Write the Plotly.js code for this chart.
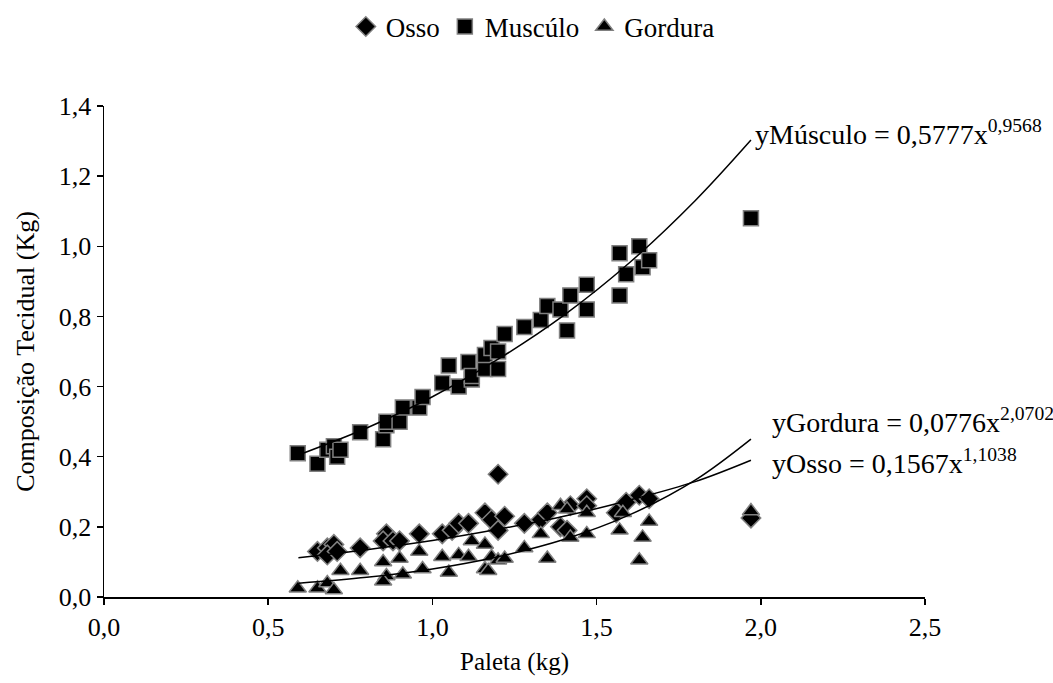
<!DOCTYPE html>
<html>
<head>
<meta charset="utf-8">
<script src="https://cdn.plot.ly/plotly-3.0.1.min.js"></script>
<style>html,body{margin:0;padding:0;background:#fff;}#chart{width:1053px;height:683px;}</style>
</head>
<body>
<div id="chart"></div>
<script>
// Músculo (squares)
const musculoX = [0.59,0.65,0.68,0.70,0.71,0.72,0.78,0.85,0.86,0.86,0.90,0.91,0.96,0.97,1.03,1.05,1.08,1.11,1.12,1.12,1.16,1.16,1.18,1.20,1.20,1.22,1.28,1.33,1.35,1.39,1.41,1.42,1.47,1.47,1.57,1.57,1.59,1.63,1.64,1.66,1.97];
const musculoY = [0.41,0.38,0.42,0.43,0.40,0.42,0.47,0.45,0.49,0.50,0.50,0.54,0.54,0.57,0.61,0.66,0.60,0.67,0.62,0.63,0.65,0.69,0.71,0.65,0.70,0.75,0.77,0.79,0.83,0.82,0.76,0.86,0.89,0.82,0.98,0.86,0.92,1.00,0.94,0.96,1.08];

// Osso (diamonds)
const ossoX = [0.65,0.68,0.70,0.68,0.71,0.78,0.86,0.85,0.88,0.90,0.96,1.03,1.06,1.08,1.11,1.16,1.18,1.22,1.20,1.20,1.28,1.33,1.35,1.39,1.41,1.42,1.47,1.47,1.56,1.59,1.63,1.66,1.97];
const ossoY = [0.13,0.14,0.15,0.12,0.13,0.14,0.18,0.16,0.16,0.16,0.18,0.18,0.19,0.21,0.21,0.24,0.22,0.23,0.19,0.35,0.21,0.22,0.24,0.20,0.19,0.26,0.28,0.26,0.24,0.27,0.29,0.28,0.225];

// Gordura (triangles)
const gorduraX = [0.59,0.65,0.68,0.70,0.72,0.78,0.85,0.86,0.85,0.90,0.91,0.96,0.97,1.03,1.05,1.08,1.11,1.12,1.16,1.16,1.17,1.18,1.20,1.22,1.28,1.33,1.35,1.39,1.41,1.42,1.47,1.47,1.57,1.58,1.64,1.66,1.63,1.97];
const gorduraY = [0.025,0.025,0.04,0.02,0.075,0.075,0.10,0.06,0.045,0.11,0.065,0.13,0.08,0.115,0.07,0.12,0.115,0.16,0.15,0.08,0.075,0.115,0.105,0.11,0.14,0.18,0.11,0.26,0.25,0.17,0.24,0.18,0.19,0.24,0.17,0.215,0.105,0.245];

// Trend lines
const trendX = [0.592,0.8,1.0,1.2,1.4,1.6,1.8,1.97];
const trendMusculo = [0.405,0.482,0.571,0.678,0.803,0.953,1.130,1.303];
const trendOsso = [0.112,0.135,0.161,0.193,0.230,0.276,0.329,0.39];
const trendGordura = [0.039,0.056,0.080,0.115,0.164,0.234,0.333,0.45];

const xTicks = [0,0.5,1.0,1.5,2.0,2.5];
const yTicks = [0,0.2,0.4,0.6,0.8,1.0,1.2,1.4];

const FONT = '"Liberation Serif", "Times New Roman", serif';
const mk = (sym) => ({symbol: sym, size: 15, color: '#000000', line: {color: '#808080', width: 1.5}});

const traces = [
  {x: ossoX, y: ossoY, mode: 'markers', type: 'scatter', name: 'Osso', marker: mk('diamond')},
  {x: musculoX, y: musculoY, mode: 'markers', type: 'scatter', name: 'Muscúlo', marker: mk('square')},
  {x: gorduraX, y: gorduraY, mode: 'markers', type: 'scatter', name: 'Gordura', marker: mk('triangle-up')},
  {x: trendX, y: trendMusculo, mode: 'lines', type: 'scatter', showlegend: false, line: {color: '#000', width: 1.5, shape: 'spline'}, hoverinfo: 'skip'},
  {x: trendX, y: trendOsso, mode: 'lines', type: 'scatter', showlegend: false, line: {color: '#000', width: 1.5, shape: 'spline'}, hoverinfo: 'skip'},
  {x: trendX, y: trendGordura, mode: 'lines', type: 'scatter', showlegend: false, line: {color: '#000', width: 1.5, shape: 'spline'}, hoverinfo: 'skip'}
];

const layout = {
  width: 1053, height: 683,
  margin: {l: 104, r: 128, t: 106, b: 86},
  paper_bgcolor: '#fff', plot_bgcolor: '#fff',
  separators: ',.',
  font: {family: FONT, size: 26, color: '#000'},
  showlegend: true,
  legend: {orientation: 'h', xref: 'container', yref: 'container', x: 0.506, xanchor: 'center', y: 1 - 27/683, yanchor: 'middle',
           font: {family: FONT, size: 27, color: '#000'}, itemwidth: 30, tracegroupgap: 0},
  xaxis: {
    range: [0, 2.5], tickvals: xTicks, tickformat: '.1f',
    showgrid: false, zeroline: false, showline: true, linecolor: '#000', linewidth: 1.5,
    ticks: 'outside', ticklen: 6, tickwidth: 1.5, tickcolor: '#000',
    tickfont: {family: FONT, size: 26},
    title: {text: 'Paleta (kg)', font: {family: FONT, size: 25}, standoff: 12}
  },
  yaxis: {
    range: [0, 1.4], tickvals: yTicks, tickformat: '.1f',
    showgrid: false, zeroline: false, showline: true, linecolor: '#000', linewidth: 1.5,
    ticks: 'outside', ticklen: 6, tickwidth: 1.5, tickcolor: '#000',
    tickfont: {family: FONT, size: 26},
    title: {text: 'Composição Tecidual (Kg)', font: {family: FONT, size: 26}, standoff: 16}
  },
  annotations: [
    {xref: 'paper', yref: 'paper', x: 0.79, y: 0.947, xanchor: 'left', yanchor: 'middle', showarrow: false,
     text: 'yMúsculo = 0,5777x<sup>0,9568</sup>', font: {family: FONT, size: 28, color: '#000'}},
    {xref: 'paper', yref: 'paper', x: 0.811, y: 0.36, xanchor: 'left', yanchor: 'middle', showarrow: false,
     text: 'yGordura = 0,0776x<sup>2,0702</sup>', font: {family: FONT, size: 28, color: '#000'}},
    {xref: 'paper', yref: 'paper', x: 0.811, y: 0.275, xanchor: 'left', yanchor: 'middle', showarrow: false,
     text: 'yOsso = 0,1567x<sup>1,1038</sup>', font: {family: FONT, size: 28, color: '#000'}}
  ]
};

Plotly.newPlot('chart', traces, layout, {displayModeBar: false, staticPlot: true});
</script>
</body>
</html>
